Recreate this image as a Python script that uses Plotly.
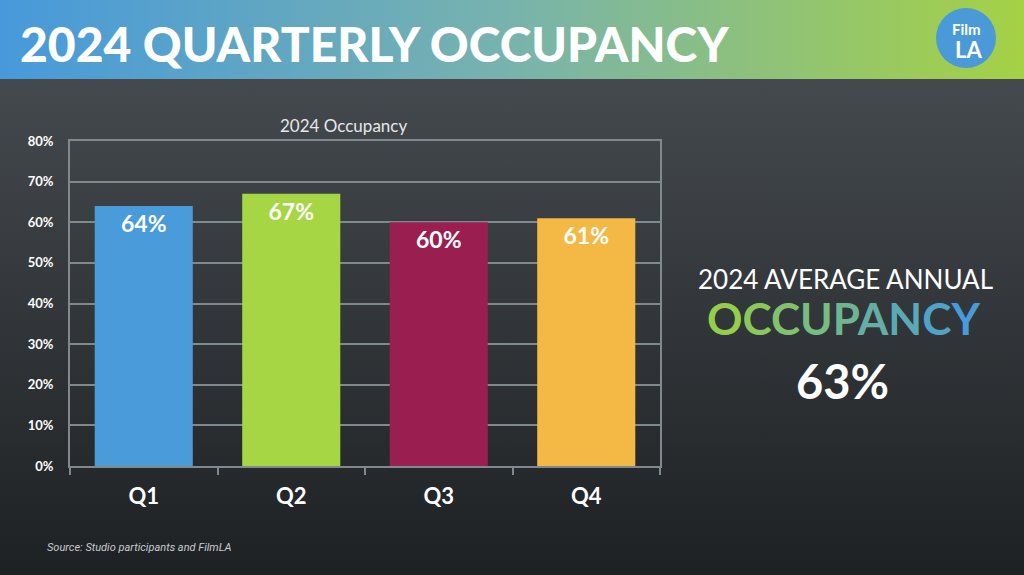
import base64
import plotly.graph_objects as go

# ---- data ----
quarters = ["Q1", "Q2", "Q3", "Q4"]
occupancy = [64, 67, 60, 61]
bar_colors = ["#4a9bd9", "#a6d644", "#9a1f50", "#f4b844"]
y_ticks = [0, 10, 20, 30, 40, 50, 60, 70, 80]
y_tick_labels = [f"{v}%" for v in y_ticks]
title_text = "2024 QUARTERLY OCCUPANCY"
chart_title = "2024 Occupancy"
avg_label = "2024 AVERAGE ANNUAL"
avg_word = "OCCUPANCY"
avg_value = "63%"
source_text = "Source: Studio participants and FilmLA"

W, H = 1024, 575
L, R, T, B = 70, 660, 141, 466
PW, PH = R - L, B - T

def px(xp):
    return (xp - L) / PW

def py(yp):
    return (B - yp) / PH

svg = f"""<svg xmlns='http://www.w3.org/2000/svg' width='{W}' height='{H}' viewBox='0 0 {W} {H}' preserveAspectRatio='none'>
<defs>
<linearGradient id='hd' x1='0' y1='0' x2='1' y2='0'>
<stop offset='0' stop-color='#4799db'/>
<stop offset='0.5' stop-color='#78b3ad'/>
<stop offset='1' stop-color='#a5d145'/>
</linearGradient>
<linearGradient id='bg' x1='0' y1='0' x2='0' y2='1'>
<stop offset='0' stop-color='#4b5054'/>
<stop offset='1' stop-color='#1d2124'/>
</linearGradient>
</defs>
<rect x='0' y='0' width='{W}' height='{H}' fill='url(#bg)'/>
<rect x='0' y='0' width='{W}' height='79' fill='url(#hd)'/>
</svg>"""
uri = "data:image/svg+xml;base64," + base64.b64encode(svg.encode()).decode()

fig = go.Figure()
fig.add_trace(go.Bar(
    x=quarters, y=occupancy,
    marker=dict(color=bar_colors, line=dict(width=0)),
    text=[f"{v}%" for v in occupancy],
    textposition="inside", insidetextanchor="end",
    textfont=dict(family="Lato", size=23, color="white", weight="bold"),
    textangle=0,
    hoverinfo="skip",
))

grid = "#7f898e"
fig.update_layout(
    width=W, height=H,
    margin=dict(l=L, r=W - R, t=T, b=H - B, pad=0),
    paper_bgcolor="#2f3437", plot_bgcolor="rgba(0,0,0,0)",
    showlegend=False, bargap=0.335,
    images=[dict(source=uri, xref="paper", yref="paper",
                 x=px(0), y=py(0), sizex=W / PW, sizey=H / PH,
                 xanchor="left", yanchor="top", sizing="stretch", layer="below")],
    xaxis=dict(showgrid=False, showline=True, linecolor=grid, linewidth=2, mirror=True,
               ticks="outside", tickson="boundaries", ticklen=7, tickcolor=grid, tickwidth=2,
               ticklabelstandoff=10,
               tickfont=dict(family="Lato", size=22, color="white", weight="bold"),
               fixedrange=True),
    yaxis=dict(range=[0, 80], tickmode="array", tickvals=y_ticks, ticktext=y_tick_labels,
               showgrid=True, gridcolor=grid, gridwidth=1.5, showline=True, linecolor=grid,
               linewidth=2, mirror=True, ticks="", ticklabelstandoff=12, zeroline=False,
               tickfont=dict(family="Lato", size=13, color="white", weight="bold"),
               fixedrange=True),
)

ann = []
ann.append(dict(text=title_text, x=px(18), y=py(43), xanchor="left", yanchor="middle",
                font=dict(family="Lato", size=48, color="white", weight=900)))
ann.append(dict(text=chart_title, x=px(343), y=py(125), xanchor="center", yanchor="middle",
                font=dict(family="Lato", size=17, color="#e6e8e9")))
ann.append(dict(text=avg_label, x=px(845), y=py(279), xanchor="center", yanchor="middle",
                font=dict(family="Lato", size=26, color="white", weight=400)))

c0 = (0x93, 0xcf, 0x4a)
c1 = (0x48, 0x9b, 0xdb)
n = len(avg_word)
spans = []
for i, ch in enumerate(avg_word):
    t = i / (n - 1)
    c = tuple(round(a + (b - a) * t) for a, b in zip(c0, c1))
    spans.append(f"<span style='color:#{c[0]:02x}{c[1]:02x}{c[2]:02x}'>{ch}</span>")
ann.append(dict(text="".join(spans), x=px(843), y=py(318), xanchor="center", yanchor="middle",
                font=dict(family="Lato", size=44, color="white", weight="bold")))
ann.append(dict(text=avg_value, x=px(842), y=py(381), xanchor="center", yanchor="middle",
                font=dict(family="Lato", size=47, color="white", weight="bold")))
ann.append(dict(text=f"<i>{source_text}</i>", x=px(45), y=py(547), xanchor="left", yanchor="middle",
                font=dict(family="Roboto", size=11, color="#c9cccd")))
# logo
ann.append(dict(text="Film", x=px(966), y=py(29), xanchor="center", yanchor="middle",
                font=dict(family="Lato", size=15, color="white", weight="bold")))
ann.append(dict(text="LA", x=px(968), y=py(49), xanchor="center", yanchor="middle",
                font=dict(family="Lato", size=22, color="white", weight="bold")))
for a in ann:
    a.update(xref="paper", yref="paper", showarrow=False)
fig.update_layout(annotations=ann)

fig.add_shape(type="circle", xref="paper", yref="paper",
              x0=px(936), x1=px(996), y0=py(8), y1=py(68),
              fillcolor="#4a9ad8", line=dict(width=0), layer="above")

fig.write_html("out.html")
